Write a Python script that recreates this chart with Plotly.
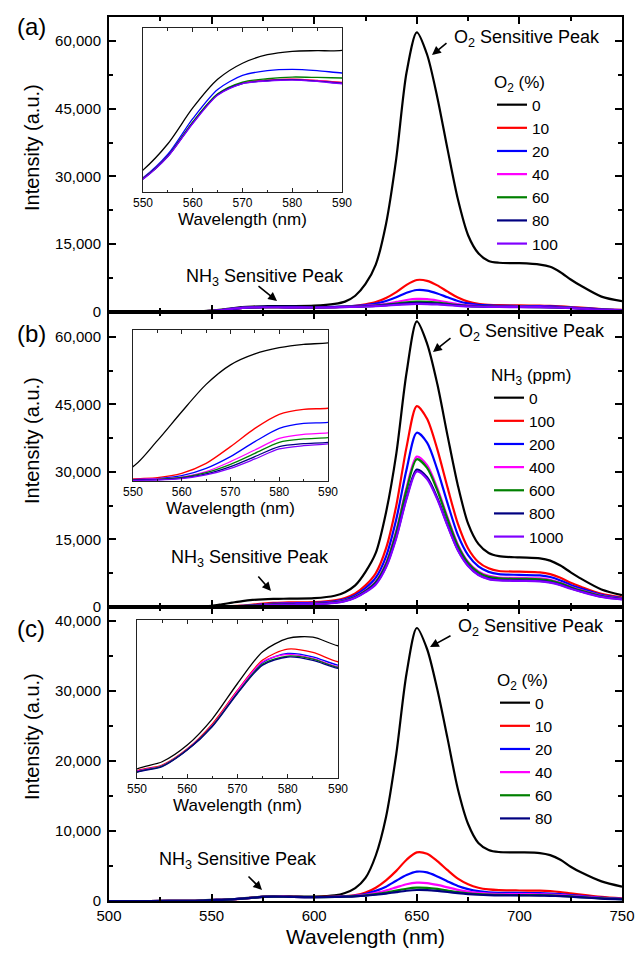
import plotly.graph_objects as go

# ---------------- data ----------------
W = [500, 520, 540, 545, 550, 555, 560, 565, 570, 575, 580, 585, 590, 600, 610, 615, 620, 625, 630, 635,
     640, 645, 650, 655, 660, 665, 670, 675, 680, 685, 690, 700, 710, 715, 720, 725, 730, 740, 750]

# panel (a): O2 (%)
A_LABELS = ['0', '10', '20', '40', '60', '80', '100']
a_0 = [0, 0, 60, 150, 300, 520, 820, 1060, 1195, 1266, 1295, 1300, 1303, 1400, 1800, 2300, 3600, 6200, 10500, 19500,
       34000, 53000, 61900, 57000, 47500, 36000, 25000, 17000, 13000, 11300, 10900, 10800, 10500, 10000, 8800, 7200, 5800, 3400, 2400]
a_10 = [0, 0, 50, 120, 232, 420, 700, 935, 1031, 1054, 1062, 1051, 1034, 1020, 1100, 1200, 1380, 1700, 2200, 3100,
        4400, 6000, 7080, 6900, 5900, 4500, 3200, 2300, 1800, 1600, 1500, 1450, 1400, 1350, 1250, 1100, 950, 650, 450]
a_20 = [0, 0, 45, 110, 235, 432, 730, 975, 1093, 1133, 1144, 1133, 1113, 1090, 1150, 1230, 1340, 1550, 1850, 2450,
        3250, 4250, 4870, 4750, 4100, 3250, 2450, 1900, 1600, 1450, 1380, 1330, 1280, 1230, 1150, 1020, 880, 600, 420]
a_40 = [0, 0, 45, 105, 229, 417, 697, 933, 1028, 1051, 1059, 1048, 1031, 1010, 1080, 1150, 1230, 1350, 1520, 1830,
        2230, 2650, 2900, 2850, 2550, 2150, 1750, 1480, 1330, 1250, 1200, 1170, 1130, 1090, 1030, 930, 800, 550, 380]
a_60 = [0, 0, 45, 105, 229, 417, 703, 938, 1037, 1065, 1079, 1076, 1071, 1060, 1100, 1150, 1210, 1300, 1420, 1620,
        1880, 2140, 2300, 2270, 2080, 1800, 1550, 1370, 1260, 1200, 1160, 1130, 1100, 1060, 1000, 900, 780, 540, 370]
a_80 = [0, 0, 44, 104, 226, 415, 694, 930, 1025, 1048, 1057, 1045, 1028, 1010, 1060, 1110, 1180, 1260, 1360, 1520,
        1710, 1890, 2000, 1980, 1850, 1650, 1450, 1300, 1220, 1170, 1140, 1110, 1080, 1040, 980, 880, 760, 520, 360]
a_100 = [0, 0, 43, 103, 224, 412, 690, 927, 1023, 1045, 1054, 1042, 1023, 1000, 1040, 1090, 1140, 1220, 1300, 1420,
         1570, 1700, 1780, 1760, 1670, 1520, 1370, 1250, 1180, 1140, 1110, 1090, 1060, 1020, 960, 860, 740, 510, 350]

# panel (b): NH3 (ppm)
B_LABELS = ['0', '100', '200', '400', '600', '800', '1000']
b_0 = [0, 0, 100, 170, 267, 600, 970, 1320, 1570, 1710, 1790, 1833, 1850, 1950, 2500, 3300, 4800, 7800, 12000, 21000,
       34000, 52000, 63400, 58500, 49500, 38000, 27000, 18500, 14000, 12000, 11300, 11000, 10800, 10300, 9200, 7700, 6300, 3900, 2650]
b_100 = [0, 0, 40, 70, 109, 126, 181, 309, 523, 757, 937, 1001, 1014, 1100, 1500, 2000, 3000, 4800, 7500, 13000,
         22500, 35500, 44600, 41800, 35000, 26500, 18500, 13000, 10000, 8600, 8000, 7850, 7700, 7300, 6500, 5400, 4500, 2900, 2150]
b_200 = [0, 0, 35, 65, 100, 113, 151, 245, 395, 587, 757, 821, 834, 920, 1250, 1700, 2600, 4200, 6500, 11200,
         19500, 30500, 38700, 36500, 30500, 23000, 16000, 11500, 9000, 7800, 7300, 7130, 7000, 6650, 5900, 4900, 4100, 2700, 2000]
b_400 = [0, 0, 35, 60, 100, 109, 134, 203, 331, 480, 629, 681, 698, 780, 1100, 1500, 2300, 3700, 5700, 9800,
         17000, 26500, 33400, 31500, 26400, 19900, 13900, 10000, 7900, 6900, 6550, 6450, 6350, 6050, 5400, 4500, 3750, 2500, 1850]
b_600 = [0, 0, 33, 58, 96, 104, 130, 190, 296, 437, 578, 621, 638, 720, 1030, 1420, 2200, 3550, 5500, 9500,
         16600, 26000, 32800, 30900, 25900, 19500, 13600, 9800, 7700, 6700, 6350, 6250, 6150, 5850, 5250, 4400, 3650, 2450, 1800]
b_800 = [0, 0, 32, 56, 96, 100, 121, 173, 267, 395, 523, 561, 578, 660, 960, 1340, 2100, 3400, 5200, 9000,
         15600, 24300, 30500, 28800, 24200, 18200, 12700, 9200, 7200, 6300, 6000, 5900, 5800, 5500, 4950, 4150, 3450, 2300, 1720]
b_1000 = [0, 0, 30, 55, 92, 96, 113, 160, 245, 365, 493, 535, 557, 640, 930, 1300, 2050, 3300, 5000, 8800,
          15300, 24000, 30100, 28400, 23900, 18000, 12600, 9100, 7100, 6200, 5900, 5800, 5700, 5400, 4850, 4050, 3400, 2250, 1700]

# panel (c): O2 (%)
C_LABELS = ['0', '10', '20', '40', '60', '80']
c_0 = [0, 0, 30, 80, 150, 180, 250, 360, 508, 641, 697, 702, 666, 640, 800, 1150, 1850, 3300, 6500, 12000,
       21000, 32500, 39000, 36000, 30200, 23200, 16000, 11000, 8300, 7300, 7000, 6950, 6850, 6550, 5900, 4900, 4100, 2800, 2050]
c_10 = [0, 0, 30, 75, 142, 166, 234, 339, 480, 606, 652, 638, 599, 570, 630, 700, 830, 1200, 1900, 2950,
        4300, 5900, 6950, 6750, 5700, 4400, 3200, 2400, 1900, 1650, 1550, 1500, 1470, 1400, 1270, 1100, 920, 600, 380]
c_20 = [0, 0, 30, 74, 139, 163, 231, 332, 473, 596, 634, 620, 585, 560, 610, 670, 770, 1000, 1450, 2050,
        2900, 3700, 4190, 4080, 3500, 2800, 2150, 1700, 1400, 1250, 1180, 1150, 1120, 1070, 980, 860, 730, 480, 320]
c_40 = [0, 0, 30, 74, 139, 163, 231, 332, 476, 599, 630, 613, 578, 555, 600, 650, 720, 870, 1150, 1500,
        1950, 2400, 2620, 2560, 2300, 1950, 1600, 1330, 1150, 1050, 1000, 980, 950, 910, 840, 740, 630, 420, 290]
c_60 = [0, 0, 29, 73, 137, 162, 230, 330, 469, 589, 623, 610, 575, 550, 590, 630, 690, 800, 980, 1200,
        1480, 1750, 1900, 1870, 1720, 1500, 1280, 1100, 980, 910, 870, 850, 830, 800, 740, 660, 560, 380, 260]
c_80 = [0, 0, 29, 72, 136, 160, 229, 328, 466, 585, 619, 605, 571, 545, 580, 615, 660, 750, 890, 1060,
        1270, 1460, 1570, 1550, 1440, 1290, 1120, 980, 890, 830, 800, 790, 770, 740, 690, 610, 520, 350, 240]

COLORS = ['#000000', '#ff0000', '#0000ff', '#ff00ff', '#008000', '#000080', '#8000ff']

# ---------------- layout helpers ----------------
FW, FH = 635, 954
FONT = 'Liberation Sans, Arial, sans-serif'


def fx(p):
    return p / FW


def fy(p):
    return 1 - p / FH


fig = go.Figure()

panels = [
    ([a_0, a_10, a_20, a_40, a_60, a_80, a_100], A_LABELS, 'legend'),
    ([b_0, b_100, b_200, b_400, b_600, b_800, b_1000], B_LABELS, 'legend2'),
    ([c_0, c_10, c_20, c_40, c_60, c_80], C_LABELS, 'legend3'),
]

for i, (series, labels, leg) in enumerate(panels):
    n = i + 1
    xa = 'x' if n == 1 else f'x{n}'
    ya = 'y' if n == 1 else f'y{n}'
    for j, (vals, lab) in enumerate(zip(series, labels)):
        fig.add_trace(go.Scatter(
            x=W, y=vals, mode='lines', name=lab, legend=leg,
            line=dict(color=COLORS[j], width=2.2, shape='spline', smoothing=0.8),
            xaxis=xa, yaxis=ya, hoverinfo='skip'))
    for j, vals in enumerate(series):
        fig.add_trace(go.Scatter(
            x=W, y=vals, mode='lines', showlegend=False,
            line=dict(color=COLORS[j], width=1.3, shape='spline', smoothing=0.8),
            xaxis=f'x{n + 3}', yaxis=f'y{n + 3}', hoverinfo='skip'))

main_common = dict(showline=True, linewidth=2, linecolor='black', mirror='ticks',
                   ticks='inside', ticklen=7, tickwidth=2, tickcolor='black',
                   showgrid=False, zeroline=False, automargin=False,
                   tickfont=dict(family=FONT, size=15, color='black'))

x_dom = [fx(109), fx(622)]
y_doms = [[fy(312), fy(17)], [fy(607), fy(312)], [fy(901), fy(607)]]
y_ranges = [[0, 65300], [0, 65500], [0, 42000]]
y_dticks = [15000, 15000, 10000]

layout = {}
for i in range(3):
    n = i + 1
    xk = 'xaxis' if n == 1 else f'xaxis{n}'
    yk = 'yaxis' if n == 1 else f'yaxis{n}'
    xd = dict(main_common, domain=x_dom, range=[500, 750], tick0=500, dtick=50,
              anchor='y' if n == 1 else f'y{n}',
              minor=dict(ticks='inside', ticklen=4, tickwidth=2, dtick=25, tick0=500, tickcolor='black'),
              showticklabels=(n == 3))
    if n == 3:
        xd['title'] = dict(text='Wavelength (nm)', font=dict(family=FONT, size=21, color='black'), standoff=6)
    layout[xk] = xd
    layout[yk] = dict(main_common, domain=y_doms[i], range=y_ranges[i], tick0=0, dtick=y_dticks[i],
                      tickformat=',d', anchor='x' if n == 1 else f'x{n}', ticklabelstandoff=3,
                      minor=dict(ticks='inside', ticklen=4, tickwidth=2, dtick=y_dticks[i] / 2,
                                 tickcolor='black'))

# insets
inset_x = [[143, 342], [133, 328], [137, 338]]
inset_y = [[28, 192], [330, 481], [620, 778]]
inset_yr = [[116, 1490], [83, 2016], [112, 774]]
for i in range(3):
    n = i + 4
    layout[f'xaxis{n}'] = dict(
        domain=[fx(inset_x[i][0]), fx(inset_x[i][1])], range=[550, 590], anchor=f'y{n}',
        tick0=550, dtick=10, showline=True, linewidth=1, linecolor='#222', mirror='ticks',
        ticks='inside', ticklen=4, tickwidth=1, tickcolor='#222', automargin=False,
        minor=dict(ticks='inside', ticklen=2.5, tickwidth=1, dtick=5, tickcolor='#222'),
        showgrid=False, zeroline=False,
        tickfont=dict(family=FONT, size=12, color='black'),
        title=dict(text='Wavelength (nm)', font=dict(family=FONT, size=17, color='black'), standoff=2))
    layout[f'yaxis{n}'] = dict(
        domain=[fy(inset_y[i][1]), fy(inset_y[i][0])], range=inset_yr[i], anchor=f'x{n}',
        showline=True, linewidth=1, linecolor='#222', mirror=True, ticks='', automargin=False,
        showticklabels=False, showgrid=False, zeroline=False)

leg_common = dict(xanchor='left', yanchor='top', bgcolor='rgba(0,0,0,0)', itemwidth=30,
                  font=dict(family=FONT, size=15.5, color='black'), traceorder='normal',
                  itemclick=False, itemdoubleclick=False)
layout['legend'] = dict(leg_common, x=fx(492), y=fy(66),
                        title=dict(text='O<sub>2</sub> (%)', font=dict(family=FONT, size=17, color='black')))
layout['legend2'] = dict(leg_common, x=fx(489), y=fy(359),
                         title=dict(text='NH<sub>3</sub> (ppm)', font=dict(family=FONT, size=17, color='black')))
layout['legend3'] = dict(leg_common, x=fx(495), y=fy(664),
                         title=dict(text='O<sub>2</sub> (%)', font=dict(family=FONT, size=17, color='black')))

annotations = []
# y titles
for yc in [148, 441, 737]:
    annotations.append(dict(text='Intensity (a.u.)', x=fx(32), y=fy(yc), xref='paper', yref='paper',
                            showarrow=False, textangle=-90, xanchor='center', yanchor='middle',
                            font=dict(family=FONT, size=20, color='black')))
# panel labels
for lab, yc in [('(a)', 27), ('(b)', 333), ('(c)', 628)]:
    annotations.append(dict(text=lab, x=fx(31), y=fy(yc), xref='paper', yref='paper', showarrow=False,
                            xanchor='center', yanchor='middle',
                            font=dict(family=FONT, size=24, color='black')))
# peak labels
for txt, x0, yc in [('O<sub>2</sub> Sensitive Peak', 452, 38), ('O<sub>2</sub> Sensitive Peak', 457, 332),
                    ('O<sub>2</sub> Sensitive Peak', 456, 627), ('NH<sub>3</sub> Sensitive Peak', 184, 277),
                    ('NH<sub>3</sub> Sensitive Peak', 169, 558), ('NH<sub>3</sub> Sensitive Peak', 157, 860)]:
    annotations.append(dict(text=txt, x=fx(x0), y=fy(yc), xref='paper', yref='paper', showarrow=False,
                            xanchor='left', yanchor='middle',
                            font=dict(family=FONT, size=18, color='black')))
# arrows (head, tail in pixels)
for (hx, hy), (tx, ty) in [((432, 55), (448, 42)), ((433, 352), (452, 337)), ((430, 647), (452, 635)),
                           ((277, 301), (257, 285)), ((271, 591), (257, 575)), ((262, 890), (247, 875))]:
    annotations.append(dict(text='', x=fx(hx), y=fy(hy), xref='paper', yref='paper', showarrow=True,
                            ax=tx - hx, ay=ty - hy, arrowhead=2, arrowsize=1.1, arrowwidth=1.6,
                            arrowcolor='black', standoff=0, startstandoff=0))

fig.update_layout(
    width=FW, height=FH, margin=dict(l=0, r=0, t=0, b=0, autoexpand=False),
    paper_bgcolor='white', plot_bgcolor='white',
    font=dict(family=FONT, color='black'),
    annotations=annotations, **layout)

fig.write_html('out.html')
